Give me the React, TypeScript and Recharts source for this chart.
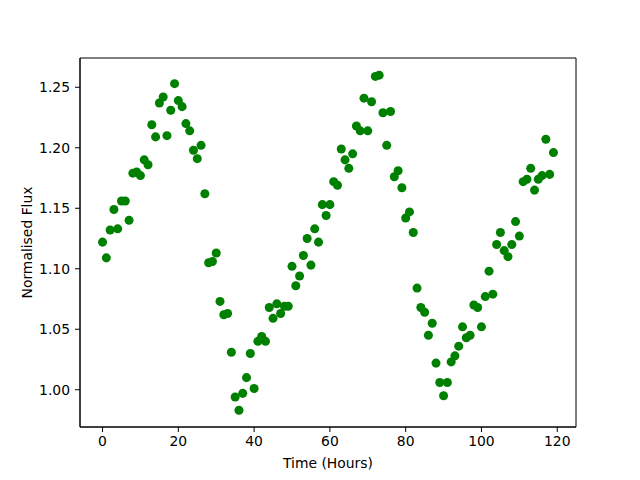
import React from "react";
import {
  ReferenceArea,
  Scatter,
  ScatterChart,
  XAxis,
  YAxis,
  ZAxis,
} from "recharts";

// hourly samples
const hours: number[] = Array.from({ length: 120 }, (_, i) => i);

const flux: number[] = [
  1.122, 1.109, 1.132, 1.149, 1.133, 1.156, 1.156, 1.14, 1.179, 1.18,
  1.177, 1.19, 1.186, 1.219, 1.209, 1.237, 1.242, 1.21, 1.231, 1.253,
  1.239, 1.234, 1.22, 1.214, 1.198, 1.191, 1.202, 1.162, 1.105, 1.106,
  1.113, 1.073, 1.062, 1.063, 1.031, 0.994, 0.983, 0.997, 1.01, 1.03,
  1.001, 1.04, 1.044, 1.04, 1.068, 1.059, 1.071, 1.063, 1.069, 1.069,
  1.102, 1.086, 1.094, 1.111, 1.125, 1.103, 1.133, 1.122, 1.153, 1.144,
  1.153, 1.172, 1.169, 1.199, 1.19, 1.183, 1.195, 1.218, 1.214, 1.241,
  1.214, 1.238, 1.259, 1.26, 1.229, 1.202, 1.23, 1.176, 1.181, 1.167,
  1.142, 1.147, 1.13, 1.084, 1.068, 1.064, 1.045, 1.055, 1.022, 1.006,
  0.995, 1.006, 1.023, 1.028, 1.036, 1.052, 1.043, 1.045, 1.07, 1.068,
  1.052, 1.077, 1.098, 1.079, 1.12, 1.13, 1.115, 1.11, 1.12, 1.139,
  1.127, 1.172, 1.174, 1.183, 1.165, 1.174, 1.177, 1.207, 1.178, 1.196,
];

const xTicks = [0, 20, 40, 60, 80, 100, 120];
const yTicks = [1.0, 1.05, 1.1, 1.15, 1.2, 1.25];

const xDomain: [number, number] = [-5.95, 124.95];
const yDomain: [number, number] = [0.9692, 1.2742];

const data = hours.map((h, i) => ({ time: h, flux: flux[i] }));

const font = "'DejaVu Sans', sans-serif";
const tickStyle = { fill: "#000", fontSize: 13.9, fontFamily: font };

export default function App() {
  return (
    <div style={{ position: "absolute", left: 0, top: 0, background: "#fff" }}>
      <ScatterChart
        width={640}
        height={480}
        margin={{ top: 58, right: 64, bottom: 0, left: 0 }}
      >
        <XAxis
          type="number"
          dataKey="time"
          domain={xDomain}
          ticks={xTicks}
          allowDataOverflow
          height={53}
          tickSize={5}
          tickMargin={4}
          stroke="#000"
          tick={tickStyle}
          label={{
            value: "Time (Hours)",
            position: "center",
            dy: 10,
            fill: "#000",
            fontSize: 13.9,
            fontFamily: font,
          }}
        />
        <YAxis
          type="number"
          dataKey="flux"
          domain={yDomain}
          ticks={yTicks}
          allowDataOverflow
          width={80}
          tickSize={5}
          tickMargin={5}
          stroke="#000"
          tick={tickStyle}
          tickFormatter={(v: number) => v.toFixed(2)}
          label={{
            value: "Normalised Flux",
            angle: -90,
            position: "center",
            dx: -13,
            fill: "#000",
            fontSize: 13.9,
            fontFamily: font,
          }}
        />
        <ZAxis range={[55, 55]} />
        <ReferenceArea
          x1={xDomain[0]}
          x2={xDomain[1]}
          y1={yDomain[0]}
          y2={yDomain[1]}
          fill="none"
          stroke="#000"
          strokeWidth={1}
          fillOpacity={0}
        />
        <Scatter data={data} fill="#008000" isAnimationActive={false} />
      </ScatterChart>
    </div>
  );
}
